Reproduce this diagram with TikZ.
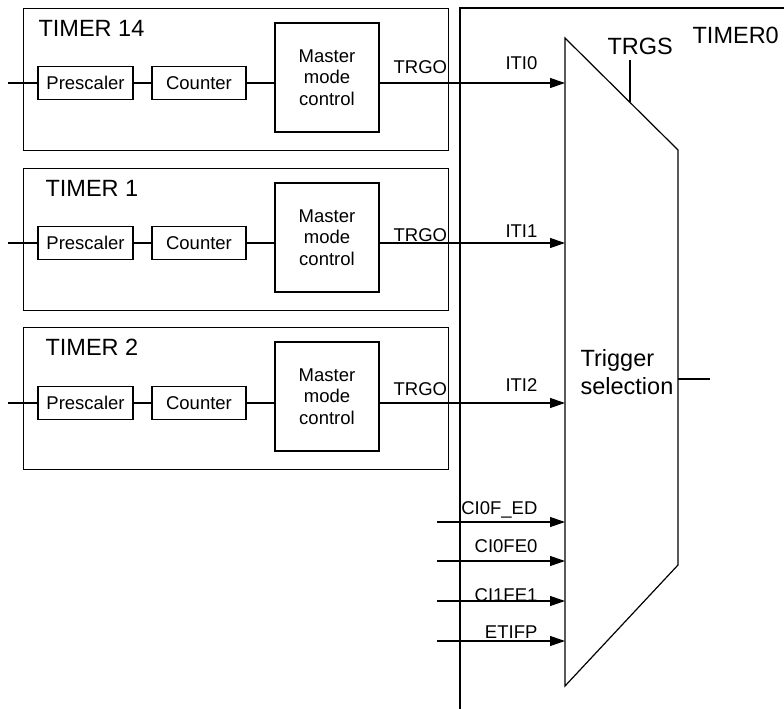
\documentclass[tikz,border=0pt]{standalone}
\usepackage{fontspec}
\setmainfont{Liberation Sans}
\usetikzlibrary{arrows.meta}
\begin{document}
\begin{tikzpicture}[x=1pt,y=-1pt, line width=1.2pt,
  small/.style={font=\fontsize{18.5}{21.5}\selectfont},
  big/.style={font=\fontsize{23.5}{28}\selectfont},
  blk/.style={draw, inner sep=0pt, align=center, small},
  tbox/.style={draw, inner sep=0pt, minimum width=425pt, minimum height=142pt, anchor=north west},
  lbl/.style={inner sep=0pt},
  sig/.style={-{Triangle[length=15pt,width=10pt]}}]
\useasboundingbox (0,0) rectangle (784,709);
% TIMER0 frame and trigger selector
\coordinate (f0) at (460,709);
\coordinate (f1) at (460,8);
\coordinate (f2) at (784,8);
\draw (f0) -- (f1) -- (f2);
\node[lbl, big, anchor=base west] (t0lab) at (692,44) {TIMER0};
\coordinate (tA) at (565,38);
\coordinate (tB) at (678,150);
\coordinate (tC) at (678,565);
\coordinate (tD) at (565,686);
\draw (tA) -- (tB) -- (tC) -- (tD) -- cycle;
\node[lbl, big, anchor=west, align=left] (trig) at (580,372.5) {Trigger\\selection};
\coordinate (trgsTop) at (630,60);
\coordinate (trgsBot) at (630,102);
\draw (trgsTop) -- (trgsBot);
\node[lbl, big, anchor=base west] (trgs) at (607,55) {TRGS};
\coordinate (outE) at (710,379);
\draw (tC |- outE) -- (outE);
% slave timers
\foreach \ty/\lab/\n/\lx/\tg/\ity/\itb in {8/TIMER 14/a/38/74/83/70, 168/TIMER 1/b/45/241/243/237, 327/TIMER 2/c/45/395/403/391} {
  \node[tbox] (box\n) at (23,\ty) {};
  \node[lbl, big, anchor=base west] (tl\n) at (\lx,\ty+28.5) {\lab};
  \coordinate (in\n) at (8,\ity);
  \node[blk, minimum width=95pt, minimum height=33pt] (pre\n) at (85.5,\ity) {Prescaler};
  \node[blk, minimum width=94pt, minimum height=33pt] (cnt\n) at (199,\ity) {Counter};
  \node[blk, minimum width=104pt, minimum height=109pt] (mmc\n) at (327,\ty+69.5) {Master\\mode\\control};
  \draw (in\n) -- (pre\n.west);
  \draw (pre\n.east) -- (cnt\n.west);
  \draw (cnt\n.east) -- (cnt\n.east -| mmc\n.west);
  \draw[sig] (mmc\n.east |- in\n) -- (in\n -| tA);
  \node[lbl, small, anchor=base west] (trgo\n) at (393,\tg) {TRGO};
}
\node[lbl, small, anchor=base east] (iti0) at (538,70) {ITI0};
\node[lbl, small, anchor=base east] (iti1) at (538,237) {ITI1};
\node[lbl, small, anchor=base east] (iti2) at (538,391) {ITI2};
% external trigger inputs
\foreach \y/\b/\lab/\n in {522/514/CI0F\_ED/p, 561/552/CI0FE0/q, 601/601/CI1FE1/r, 641/638/ETIFP/s} {
  \coordinate (s\n) at (437,\y);
  \draw[sig] (s\n) -- (s\n -| tA);
  \node[lbl, small, anchor=base east] (l\n) at (538,\b) {\lab};
}
\end{tikzpicture}
\end{document}
